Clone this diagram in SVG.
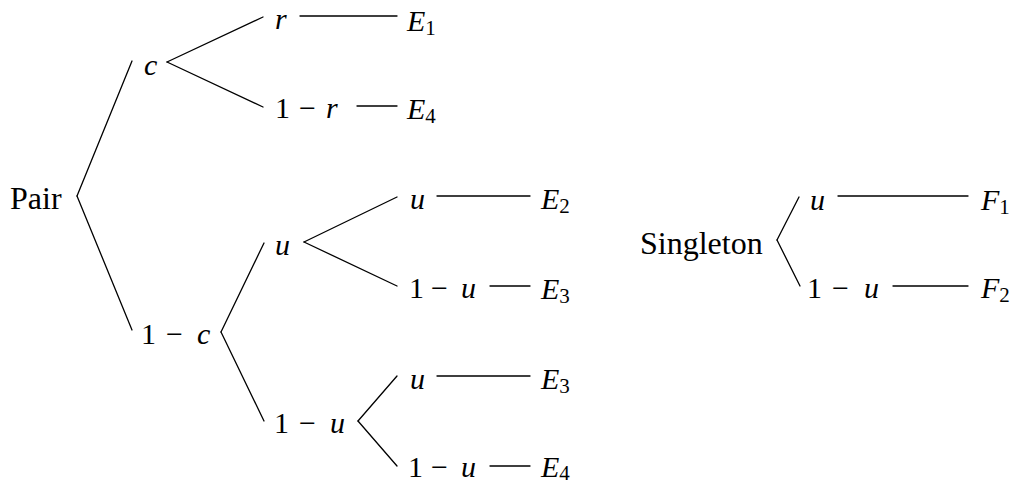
<svg xmlns="http://www.w3.org/2000/svg" width="1013" height="484" viewBox="0 0 1013 484" font-family="Liberation Serif, DejaVu Serif, serif">
<style>
text{font-size:30px;fill:#000}
.rm{font-size:32px}
.it{font-style:italic}
.sub{font-style:normal;font-size:21px}
#connectors line{stroke:#000;stroke-width:1.3;stroke-linecap:round}
</style>
<rect width="1013" height="484" fill="#fff"/>
<g id="connectors">
<line x1="77" y1="196" x2="132" y2="61"/>
<line x1="77" y1="196" x2="132" y2="330"/>
<line x1="167" y1="62" x2="263" y2="17"/>
<line x1="167" y1="62" x2="263" y2="107"/>
<line x1="300" y1="16" x2="397" y2="16"/>
<line x1="357" y1="106" x2="397" y2="106"/>
<line x1="221" y1="332" x2="264" y2="243"/>
<line x1="221" y1="332" x2="264" y2="421"/>
<line x1="304" y1="242" x2="397" y2="197"/>
<line x1="304" y1="242" x2="397" y2="286"/>
<line x1="358" y1="421" x2="397" y2="376"/>
<line x1="358" y1="421" x2="397" y2="466"/>
<line x1="437" y1="196" x2="530" y2="196"/>
<line x1="490" y1="286" x2="530" y2="286"/>
<line x1="437" y1="376" x2="530" y2="376"/>
<line x1="490" y1="466" x2="530" y2="466"/>
<line x1="777" y1="240" x2="799" y2="197"/>
<line x1="777" y1="240" x2="800" y2="286"/>
<line x1="838" y1="196" x2="968" y2="196"/>
<line x1="893" y1="286" x2="968" y2="286"/>
</g>
<g id="pair"><text class="rm" x="10" y="209">Pair</text></g>
<g id="c"><text class="it" x="144" y="75">c</text></g>
<g id="r"><text class="it" x="275" y="29">r</text></g>
<g id="E1"><text x="407" y="31"><tspan class="it">E</tspan><tspan class="sub" dy="4">1</tspan></text></g>
<g id="one-minus-r"><text y="118"><tspan x="275">1</tspan><tspan x="299">−</tspan><tspan class="it" x="326">r</tspan></text></g>
<g id="E4a"><text x="407" y="119"><tspan class="it">E</tspan><tspan class="sub" dy="4">4</tspan></text></g>
<g id="one-minus-c"><text y="344"><tspan x="141">1</tspan><tspan x="166">−</tspan><tspan class="it" x="197">c</tspan></text></g>
<g id="u-mid"><text class="it" x="275" y="255">u</text></g>
<g id="one-minus-u-mid"><text y="433"><tspan x="274">1</tspan><tspan x="299">−</tspan><tspan class="it" x="330">u</tspan></text></g>
<g id="u-E2"><text class="it" x="410" y="209">u</text></g>
<g id="E2"><text x="541" y="209"><tspan class="it">E</tspan><tspan class="sub" dy="4">2</tspan></text></g>
<g id="one-minus-u-E3"><text y="298"><tspan x="409">1</tspan><tspan x="431">−</tspan><tspan class="it" x="461">u</tspan></text></g>
<g id="E3a"><text x="541" y="299"><tspan class="it">E</tspan><tspan class="sub" dy="4">3</tspan></text></g>
<g id="u-E3"><text class="it" x="410" y="389">u</text></g>
<g id="E3b"><text x="541" y="389"><tspan class="it">E</tspan><tspan class="sub" dy="4">3</tspan></text></g>
<g id="one-minus-u-E4"><text y="477"><tspan x="408">1</tspan><tspan x="431">−</tspan><tspan class="it" x="461">u</tspan></text></g>
<g id="E4b"><text x="541" y="477"><tspan class="it">E</tspan><tspan class="sub" dy="3">4</tspan></text></g>
<g id="singleton"><text class="rm" x="640" y="254">Singleton</text></g>
<g id="u-F1"><text class="it" x="810" y="210">u</text></g>
<g id="F1"><text x="981" y="210"><tspan class="it">F</tspan><tspan class="sub" dy="4">1</tspan></text></g>
<g id="one-minus-u-F2"><text y="298"><tspan x="807">1</tspan><tspan x="832">−</tspan><tspan class="it" x="864">u</tspan></text></g>
<g id="F2"><text x="981" y="298"><tspan class="it">F</tspan><tspan class="sub" dy="4">2</tspan></text></g>
</svg>
